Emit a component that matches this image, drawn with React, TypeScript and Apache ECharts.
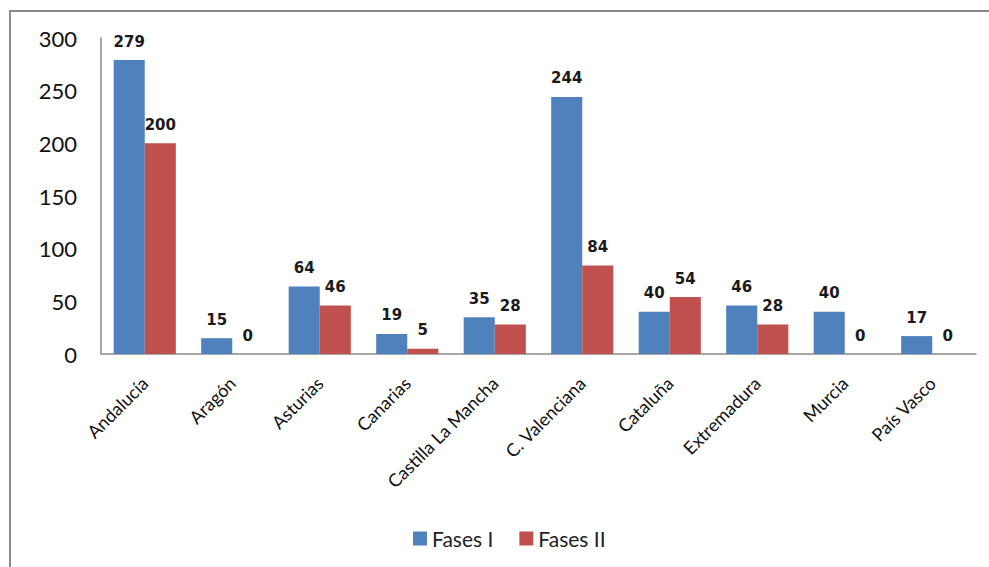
import React, { useEffect, useRef } from "react";
import * as echarts from "echarts";

const categories = [
  "Andalucía",
  "Aragón",
  "Asturias",
  "Canarias",
  "Castilla La Mancha",
  "C. Valenciana",
  "Cataluña",
  "Extremadura",
  "Murcia",
  "País Vasco",
];
const fasesI = [279, 15, 64, 19, 35, 244, 40, 46, 40, 17];
const fasesII = [200, 0, 46, 5, 28, 84, 54, 28, 0, 0];

export default function App() {
  const ref = useRef<HTMLDivElement>(null);
  useEffect(() => {
    const chart = echarts.init(ref.current!, null, { renderer: "svg" });
    const labelStyle = {
      show: true,
      position: "top" as const,
      fontFamily: "DejaVu Sans",
      fontWeight: "bold" as const,
      fontSize: 15,
      color: "#1a1a1a",
      distance: 11,
    };
    chart.setOption({
      animation: false,
      backgroundColor: "#ffffff",
      graphic: [
        {
          type: "rect",
          shape: { x: 10, y: 11, width: 1000, height: 600 },
          style: { fill: "none", stroke: "#8a8a8a", lineWidth: 2 },
          silent: true,
        },
      ],
      legend: {
        left: 408,
        top: 523,
        itemWidth: 14,
        itemHeight: 14,
        itemGap: 26,
        icon: "rect",
        textStyle: { fontFamily: "Lato", fontSize: 21, color: "#222" },
        data: ["Fases I", "Fases II"],
      },
      grid: { left: 101, top: 38, width: 875, height: 316, containLabel: false },
      xAxis: {
        type: "category",
        data: categories,
        axisLine: { show: true, lineStyle: { color: "#8a8a8a", width: 1.5 } },
        axisTick: { show: false },
        axisLabel: {
          rotate: 45,
          interval: 0,
          margin: 26,
          fontFamily: "Lato",
          fontSize: 18,
          color: "#111",
        },
      },
      yAxis: {
        type: "value",
        min: 0,
        max: 300,
        interval: 50,
        splitLine: { show: false },
        axisLine: { show: true, lineStyle: { color: "#8a8a8a", width: 1.5 } },
        axisTick: { show: false },
        axisLabel: {
          margin: 24,
          fontFamily: "Lato",
          fontSize: 22,
          color: "#111",
        },
      },
      series: [
        {
          name: "Fases I",
          type: "bar",
          data: fasesI,
          itemStyle: { color: "#4F81BD" },
          barGap: "0%",
          barCategoryGap: "29%",
          label: labelStyle,
        },
        {
          name: "Fases II",
          type: "bar",
          data: fasesII,
          itemStyle: { color: "#C0504D" },
          barGap: "0%",
          barCategoryGap: "29%",
          label: labelStyle,
        },
      ],
    });
    return () => chart.dispose();
  }, []);
  return (
    <div
      ref={ref}
      style={{ position: "fixed", left: 0, top: 0, width: 989, height: 567 }}
    />
  );
}
